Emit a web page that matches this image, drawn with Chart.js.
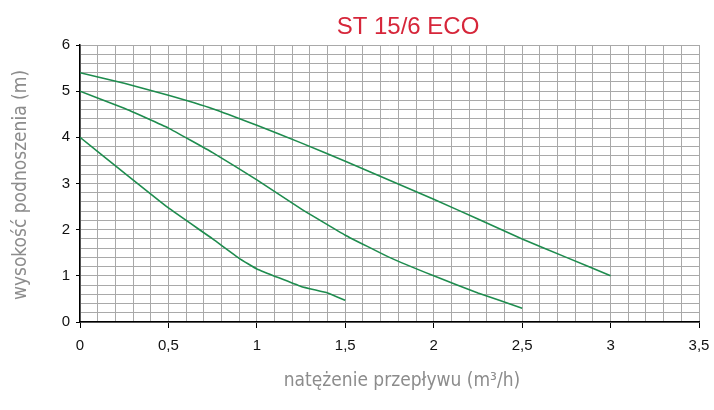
<!DOCTYPE html>
<html>
<head>
<meta charset="utf-8">
<script src="https://cdn.jsdelivr.net/npm/chart.js@4.4.0/dist/chart.umd.min.js"></script>
<style>
  html, body { margin: 0; padding: 0; background: #fff; }
  #wrap { width: 714px; height: 410px; }
</style>
</head>
<body>
<div id="wrap"><canvas id="myChart" width="714" height="410"></canvas></div>
<script>
'use strict';
// pump curves, flow (m3/h) vs head (m)
const flow_low = [0, 0.25, 0.5, 0.75, 0.9, 1, 1.25, 1.4, 1.5];
const head_low = [4.0, 3.23, 2.47, 1.80, 1.38, 1.15, 0.77, 0.63, 0.47];
const flow_mid = [0, 0.25, 0.5, 0.75, 1, 1.25, 1.5, 1.75, 2, 2.25, 2.5];
const head_mid = [5.0, 4.63, 4.20, 3.67, 3.08, 2.45, 1.88, 1.40, 1.0, 0.63, 0.3];
const flow_high = [0, 0.25, 0.5, 0.75, 1, 1.25, 1.5, 1.75, 2, 2.25, 2.5, 2.75, 3];
const head_high = [5.4, 5.17, 4.91, 4.62, 4.26, 3.88, 3.48, 3.07, 2.66, 2.23, 1.80, 1.40, 1.0];

const chart_title = 'ST 15/6 ECO';
const x_title = 'natężenie przepływu (m³/h)';
const y_title = 'wysokość podnoszenia (m)';

function toPoints(xs, ys) {
  return xs.map((x, i) => ({ x: x, y: ys[i] }));
}

function isMultiple(v, step) {
  const r = v / step;
  return Math.abs(r - Math.round(r)) < 1e-6;
}

const lineColor = '#1e8c4e';
function curve(label, xs, ys) {
  return {
    label: label,
    data: toPoints(xs, ys),
    borderColor: lineColor,
    borderWidth: 1.6,
    pointRadius: 0,
    tension: 0.1,
    fill: false
  };
}

const textPlugin = {
  id: 'texts',
  afterDraw(chart) {
    const c = chart.ctx;
    c.save();
    c.fillStyle = '#d6263a';
    c.font = '24px "Liberation Sans", Arial, sans-serif';
    c.textAlign = 'center';
    c.textBaseline = 'middle';
    c.fillText(chart_title, 408, 27);

    c.fillStyle = '#8c8c8c';
    c.font = '19px "DejaVu Sans Condensed", "DejaVu Sans", sans-serif';
    c.fillText(x_title, 402, 381);

    c.translate(21, 185);
    c.rotate(-Math.PI / 2);
    c.fillText(y_title, 0, 0);
    c.restore();
  }
};

var ctx = document.getElementById('myChart').getContext('2d');
var myChart = new Chart(ctx, {
  type: 'line',
  data: {
    datasets: [
      curve('low', flow_low, head_low),
      curve('mid', flow_mid, head_mid),
      curve('high', flow_high, head_high)
    ]
  },
  options: {
    responsive: false,
    animation: false,
    layout: { padding: { top: 45, right: 0, left: 0, bottom: 0 } },
    plugins: {
      legend: { display: false },
      title: { display: false },
      tooltip: { enabled: false }
    },
    scales: {
      x: {
        type: 'linear',
        min: 0,
        max: 3.5,
        afterFit(s) { s.height = 88; s.paddingLeft = 0; s.paddingRight = 15; },
        afterBuildTicks(s) {
          const t = [];
          for (let i = 0; i <= 35; i++) t.push({ value: i / 10 });
          s.ticks = t;
        },
        ticks: {
          autoSkip: false,
          maxRotation: 0,
          padding: 9,
          color: '#111',
          font: { family: '"Liberation Sans", Arial, sans-serif', size: 15 },
          callback(v) {
            if (!isMultiple(v, 0.5)) return '';
            return String(Math.round(v * 10) / 10).replace('.', ',');
          }
        },
        grid: {
          color: '#a9a9a9',
          lineWidth: 1,
          tickLength: 6,
          tickColor(c) { return (c.tick && isMultiple(c.tick.value, 0.5)) ? '#000' : 'rgba(0,0,0,0)'; }
        },
        border: { color: '#000', width: 1.5 }
      },
      y: {
        type: 'linear',
        min: 0,
        max: 6,
        afterFit(s) { s.width = 80; },
        afterBuildTicks(s) {
          const t = [];
          for (let i = 0; i <= 30; i++) t.push({ value: i / 5 });
          s.ticks = t;
        },
        ticks: {
          autoSkip: false,
          padding: 6,
          color: '#111',
          font: { family: '"Liberation Sans", Arial, sans-serif', size: 15 },
          callback(v) {
            if (!isMultiple(v, 1)) return '';
            return String(Math.round(v));
          }
        },
        grid: {
          color: '#a9a9a9',
          lineWidth: 1,
          tickLength: 4,
          tickColor(c) { return (c.tick && isMultiple(c.tick.value, 1)) ? '#000' : 'rgba(0,0,0,0)'; }
        },
        border: { color: '#000', width: 1.5 }
      }
    }
  },
  plugins: [textPlugin]
});
</script>
</body>
</html>
